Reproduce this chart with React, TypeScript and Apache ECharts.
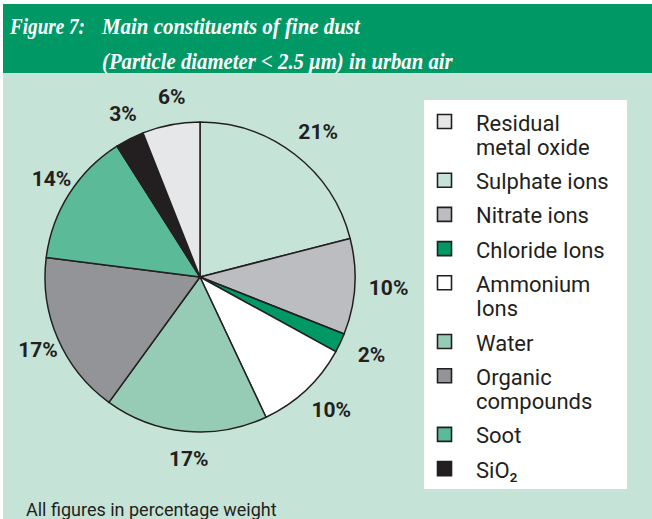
import React, { useEffect, useRef } from "react";
import * as echarts from "echarts";

// Pie order (clockwise from 12 o'clock)
const categories = [
  "Sulphate ions",
  "Nitrate ions",
  "Chloride Ions",
  "Ammonium Ions",
  "Water",
  "Organic compounds",
  "Soot",
  "SiO₂",
  "Residual metal oxide",
];
const values = [21, 10, 2, 10, 17, 17, 14, 3, 6];
const colors = [
  "#c6e3d7",
  "#bcbdc1",
  "#009865",
  "#ffffff",
  "#96ccb6",
  "#929497",
  "#5bba97",
  "#231f20",
  "#e6e7e8",
];

// Legend order (indexes into categories) and displayed lines
const legendOrder = [8, 0, 1, 2, 3, 4, 5, 6, 7];
const legendLabels = [
  ["Residual", "metal oxide"],
  ["Sulphate ions"],
  ["Nitrate ions"],
  ["Chloride Ions"],
  ["Ammonium", "Ions"],
  ["Water"],
  ["Organic", "compounds"],
  ["Soot"],
  ["SiO₂"],
];

const titleLine1Prefix = "Figure 7:";
const titleLine1 = "Main constituents of fine dust";
const titleLine2 = "(Particle diameter < 2.5 μm) in urban air";
const footnote = "All figures in percentage weight";

const DARK = "#231f20";
const GREEN = "#009865";
const MINT = "#c6e3d7";
const TITLE_FONT = "italic bold 24px 'Liberation Serif'";

function measure(text: string, font: string): number {
  const c = document.createElement("canvas").getContext("2d");
  if (!c) return 0;
  c.font = font;
  return c.measureText(text).width;
}

function fittedTitle(text: string, x: number, y: number, width: number): any {
  const w = measure(text, TITLE_FONT);
  const s = w > 0 ? width / w : 1;
  return {
    type: "text",
    x,
    y,
    scaleX: s,
    style: {
      text,
      fill: "#ffffff",
      font: TITLE_FONT,
      verticalAlign: "middle",
      align: "left",
    },
  };
}

function buildLegend(): any[] {
  const els: any[] = [];
  const lineH = 24.5;
  const gap = 34.2;
  let y = 123;
  legendLabels.forEach((lines, i) => {
    const idx = legendOrder[i];
    els.push({
      type: "rect",
      shape: { x: 437.5, y: y - 8.5, width: 14, height: 14 },
      style: { fill: colors[idx], stroke: DARK, lineWidth: 1.6 },
    });
    lines.forEach((ln, k) => {
      els.push({
        type: "text",
        x: 476,
        y: y + k * lineH,
        style: {
          text: ln,
          fill: DARK,
          font: "22px Roboto",
          verticalAlign: "middle",
          align: "left",
        },
      });
    });
    y += (lines.length - 1) * lineH + gap;
  });
  return els;
}

export default function App() {
  const ref = useRef<HTMLDivElement>(null);
  useEffect(() => {
    if (!ref.current) return;
    const chart = echarts.init(ref.current, null, { renderer: "svg" });
    const data = categories.map((name, i) => ({
      name,
      value: values[i],
      itemStyle: { color: colors[i] },
    }));
    const option: any = {
      animation: false,
      backgroundColor: "#ffffff",
      graphic: [
        {
          type: "group",
          z: -10,
          children: [
            {
              type: "rect",
              shape: { x: 3, y: 73, width: 649, height: 446 },
              style: { fill: MINT },
            },
            {
              type: "rect",
              shape: { x: 3, y: 4, width: 649, height: 69 },
              style: { fill: GREEN },
            },
            {
              type: "rect",
              shape: { x: 424, y: 100, width: 203, height: 389 },
              style: { fill: "#ffffff" },
            },
          ],
        },
        {
          type: "group",
          children: [
            fittedTitle(titleLine1Prefix, 10, 26.5, 75),
            fittedTitle(titleLine1, 102, 26.5, 258),
            fittedTitle(titleLine2, 102, 60.5, 351),
            {
              type: "text",
              x: 26,
              y: 509,
              style: {
                text: footnote,
                fill: DARK,
                font: "18px Roboto",
                verticalAlign: "middle",
              },
            },
            ...buildLegend(),
          ],
        },
      ],
      series: [
        {
          type: "pie",
          center: [200, 277],
          radius: 155,
          startAngle: 90,
          clockwise: true,
          silent: true,
          label: { show: false },
          labelLine: { show: false },
          itemStyle: { borderColor: DARK, borderWidth: 1.5 },
          emphasis: { disabled: true },
          data,
        },
        {
          type: "pie",
          center: [200, 277],
          radius: [162, 198],
          startAngle: 90,
          clockwise: true,
          silent: true,
          itemStyle: { color: "transparent", borderWidth: 0 },
          label: {
            show: true,
            position: "inside",
            formatter: "{c}%",
            color: DARK,
            fontFamily: "Roboto",
            fontWeight: "bold",
            fontSize: 21,
            padding: [6, 0, 0, 12],
          },
          labelLine: { show: false },
          emphasis: { disabled: true },
          data: categories.map((name, i) => ({ name, value: values[i] })),
        },
      ],
    };
    chart.setOption(option);
    return () => chart.dispose();
  }, []);
  return (
    <div
      ref={ref}
      style={{ position: "absolute", left: 0, top: 0, width: 652, height: 519 }}
    />
  );
}
